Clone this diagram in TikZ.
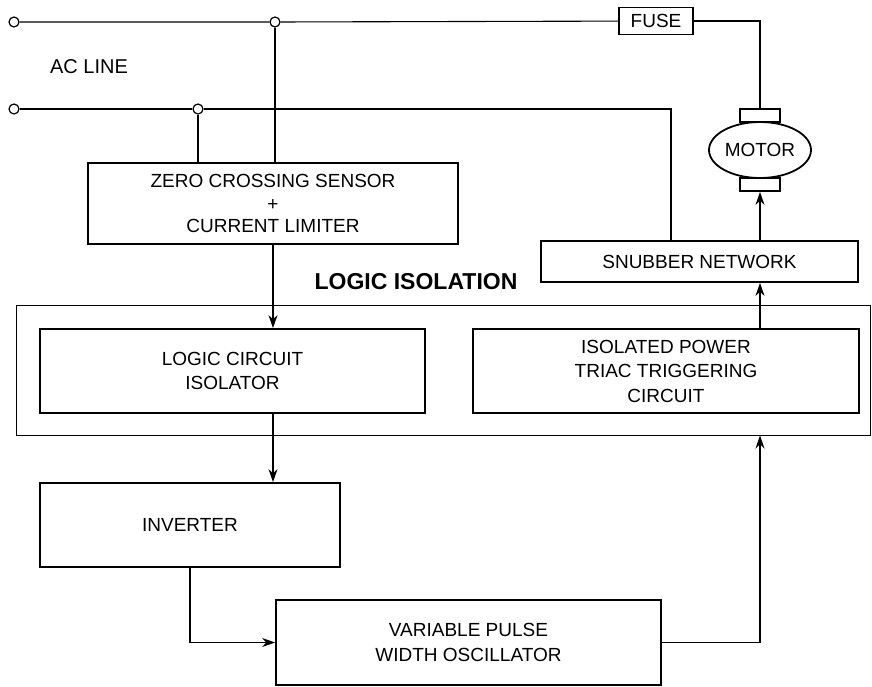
\documentclass[tikz,border=0pt]{standalone}
\usepackage{fontspec}
\setmainfont{Liberation Sans}
\usetikzlibrary{arrows.meta,shapes.geometric}

\tikzset{
    blockbox/.style={draw, line width=1.8pt, align=center, font=\fontsize{19}{24.5}\selectfont},
    junction/.style={draw, circle, line width=1.2pt, inner sep=0pt, minimum size=10pt, fill=white},
    brush/.style={draw, line width=1.8pt, minimum width=40pt, minimum height=13pt, inner sep=0pt},
    wire/.style={line width=1.1pt},
    sig/.style={line width=1.1pt, -{Stealth[length=13pt, width=9pt]}}
}

\begin{document}
\begin{tikzpicture}[x=1pt, y=-1pt]
    \useasboundingbox (0, 0) rectangle (872, 686);

    \node [junction] (l1) at (14, 22) {};
    \node [junction] (t1) at (275, 22) {};
    \node [junction] (l2) at (14, 109) {};
    \node [junction] (t2) at (198, 109) {};
    \node [font=\fontsize{20}{24}\selectfont] (acline) at (89, 67) {AC LINE};

    \node [blockbox, minimum width=74pt, minimum height=27pt, inner sep=0pt] (fuse) at (656, 21) {FUSE};
    \node [draw, ellipse, line width=1.8pt, minimum width=102pt, minimum height=56pt, inner sep=0pt,
        font=\fontsize{19}{24}\selectfont] (motor) at (760, 150) {MOTOR};
    \node [brush] (btop) at (760, 115.5) {};
    \node [brush] (bbot) at (760, 184.5) {};

    \node [blockbox, minimum width=370pt, minimum height=81pt, font=\fontsize{19}{22.5}\selectfont] (zc) at (273, 203.5)
        {ZERO CROSSING SENSOR\\+\\CURRENT LIMITER};
    \node [blockbox, minimum width=317pt, minimum height=41pt] (snub) at (699.5, 261.5) {SNUBBER NETWORK};
    \coordinate (snubin) at (671, 241);

    \node [font=\bfseries\fontsize{23}{24}\selectfont] (isolabel) at (416, 282) {LOGIC ISOLATION};
    \node [draw, line width=1pt, minimum width=854pt, minimum height=130pt] (iso) at (443, 370) {};
    \node [blockbox, minimum width=385pt, minimum height=84pt] (lci) at (232.5, 371) {LOGIC CIRCUIT\\ISOLATOR};
    \node [blockbox, minimum width=386pt, minimum height=84pt] (ipt) at (666, 371)
        {ISOLATED POWER\\TRIAC TRIGGERING\\CIRCUIT};

    \node [blockbox, minimum width=300pt, minimum height=84pt] (inv) at (190, 525) {INVERTER};
    \node [blockbox, minimum width=385pt, minimum height=85pt] (osc) at (468.5, 642.5) {VARIABLE PULSE\\WIDTH OSCILLATOR};

    \draw [wire] (l1) -- (t1) -- (fuse);
    \draw [wire] (fuse) -| (btop);
    \draw [wire] (l2) -- (t2) -| (snubin);
    \draw [wire] (t1) -- (t1 |- zc.north);
    \draw [wire] (t2) -- (t2 |- zc.north);

    \draw [sig] (zc.south) -- (zc.south |- lci.north);
    \draw [sig] (zc.south |- lci.south) -- (zc.south |- inv.north);
    \draw [sig] (inv.south) |- (osc.west);
    \draw [sig] (osc.east) -| (motor |- iso.south);
    \draw [sig] (motor |- ipt.north) -- (motor |- snub.south);
    \draw [sig] (motor |- snub.north) -- (bbot);
\end{tikzpicture}
\end{document}
